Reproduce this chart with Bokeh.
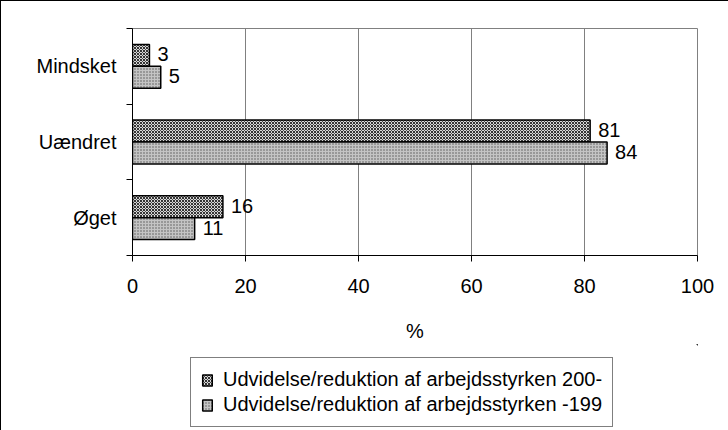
from bokeh.plotting import figure
from bokeh.layouts import column
from bokeh.models import (ColumnDataSource, Range1d, FixedTicker, Legend, LegendItem)
from bokeh.embed import file_html
from bokeh.resources import INLINE
from bokeh.core.properties import value

# ---- data ----
categories = ["Mindsket", "Uændret", "Øget"]          # top to bottom
series_names = ["Udvidelse/reduktion af arbejdsstyrken 200-",
                "Udvidelse/reduktion af arbejdsstyrken -199"]
vals_200 = [3, 81, 16]
vals_199 = [5, 84, 11]
x_ticks = [0, 20, 40, 60, 80, 100]
x_label = "%"

FONT = "Liberation Sans"
FS = "20px"
n = len(categories)
centers = [n - i - 0.5 for i in range(n)]
bar_h = 0.29

style_a = dict(fill_color="#d8d8d8", line_color="black", line_width=1.5,
               hatch_pattern="diagonal_cross", hatch_color="#333333",
               hatch_scale=3, hatch_weight=1)
style_b = dict(fill_color="#c4c4c4", line_color="black", line_width=1.5,
               hatch_pattern="dot", hatch_color="#555555",
               hatch_scale=3, hatch_weight=1)

src_a = ColumnDataSource(dict(y=[c + bar_h / 2 for c in centers], v=vals_200,
                              t=[str(v) for v in vals_200]))
src_b = ColumnDataSource(dict(y=[c - bar_h / 2 for c in centers], v=vals_199,
                              t=[str(v) for v in vals_199]))

# ---------------- chart ----------------
p = figure(width=727, height=343, output_backend="svg", toolbar_location=None,
           x_range=Range1d(0, 100), y_range=Range1d(0, n),
           min_border_left=131, min_border_top=27, min_border_right=31,
           min_border_bottom=0)
p.outline_line_color = "#808080"
p.outline_line_width = 1

p.hbar(y="y", right="v", left=0, height=bar_h, source=src_a, **style_a)
p.hbar(y="y", right="v", left=0, height=bar_h, source=src_b, **style_b)

for s in (src_a, src_b):
    p.text(x="v", y="y", text="t", source=s, x_offset=8, y_offset=-1,
           text_baseline="middle", text_align="left",
           text_font=value(FONT), text_font_size=FS, text_color="black")

xa = p.xaxis[0]
xa.ticker = FixedTicker(ticks=x_ticks)
xa.axis_label = x_label
xa.axis_label_text_font = FONT
xa.axis_label_text_font_size = FS
xa.axis_label_text_font_style = "normal"
xa.axis_label_text_color = "black"
xa.axis_label_standoff = 24
xa.major_label_text_font = FONT
xa.major_label_text_font_size = FS
xa.major_label_text_color = "black"
xa.major_label_standoff = 17
xa.major_tick_out = 6
xa.major_tick_in = 0
xa.minor_tick_line_color = None
xa.axis_line_color = "black"
xa.major_tick_line_color = "black"

ya = p.yaxis[0]
ya.ticker = FixedTicker(ticks=centers, minor_ticks=list(range(n + 1)))
ya.major_label_overrides = {c: lab for c, lab in zip(centers, categories)}
ya.major_label_text_font = FONT
ya.major_label_text_font_size = FS
ya.major_label_text_color = "black"
ya.major_label_standoff = 10
ya.major_tick_line_color = None
ya.minor_tick_out = 6
ya.minor_tick_in = 0
ya.minor_tick_line_color = "black"
ya.axis_line_color = "black"

p.xgrid.ticker = FixedTicker(ticks=x_ticks)
p.xgrid.grid_line_color = "#808080"
p.ygrid.grid_line_color = None

# ---------------- legend strip ----------------
# same sources, but the visible ranges exclude the bars, so only the legend shows
q = figure(width=727, height=87, output_backend="svg", toolbar_location=None,
           x_axis_location=None, y_axis_location=None,
           x_range=Range1d(-2, -1), y_range=Range1d(-2, -1),
           min_border=0, outline_line_color=None)
q.grid.grid_line_color = None
la = q.hbar(y="y", right="v", left=0, height=bar_h, source=src_a, **style_a)
lb = q.hbar(y="y", right="v", left=0, height=bar_h, source=src_b, **style_b)

legend = Legend(items=[LegendItem(label=series_names[0], renderers=[la]),
                       LegendItem(label=series_names[1], renderers=[lb])],
                location=(58, 4), orientation="vertical",
                border_line_color="black", border_line_width=1,
                background_fill_color="white", background_fill_alpha=1,
                label_text_font=FONT, label_text_font_size=FS,
                label_text_color="black",
                glyph_width=12, glyph_height=14, label_standoff=10,
                label_height=21, spacing=2, padding=10, margin=0)
q.add_layout(legend)

layout = column(p, q, spacing=0,
                styles={"border-left": "1px solid black",
                        "border-top": "1px solid black"})

open("out.html", "w").write(file_html(layout, INLINE))
